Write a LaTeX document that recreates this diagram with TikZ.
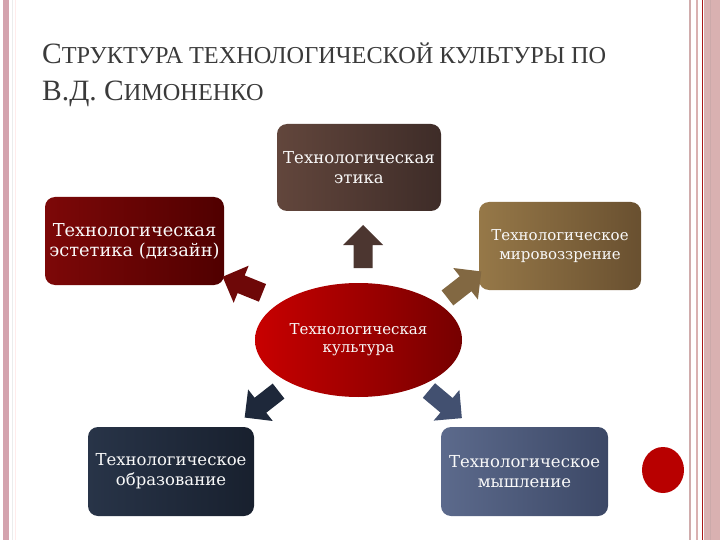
\documentclass[tikz,border=0pt]{standalone}
\usepackage{fontspec}
\setmainfont{DejaVu Serif}
\newfontfamily\titlefont{Liberation Serif}
\usetikzlibrary{shapes.geometric}
\definecolor{titlegray}{HTML}{3A3A3A}
\definecolor{pinkA}{HTML}{D4A3AE}
\definecolor{pinkB}{HTML}{D9B1B1}
\definecolor{redline}{HTML}{A81818}
\definecolor{etL}{RGB}{98,70,60}
\definecolor{etR}{RGB}{62,44,40}
\definecolor{esL}{RGB}{125,8,8}
\definecolor{esR}{RGB}{80,0,0}
\definecolor{miL}{RGB}{150,120,72}
\definecolor{miR}{RGB}{105,80,48}
\definecolor{kuL}{RGB}{200,0,0}
\definecolor{kuR}{RGB}{118,0,0}
\definecolor{obL}{RGB}{40,52,72}
\definecolor{obR}{RGB}{24,32,46}
\definecolor{myL}{RGB}{92,106,140}
\definecolor{myR}{RGB}{60,72,102}
\definecolor{arA}{RGB}{76,54,48}
\definecolor{arB}{RGB}{110,8,8}
\definecolor{arC}{RGB}{130,104,66}
\definecolor{arD}{RGB}{30,40,58}
\definecolor{arE}{RGB}{66,80,112}
\definecolor{dotred}{RGB}{184,0,0}
\newcommand\bigC[1]{{\fontsize{29.5}{34}\selectfont #1}}
\newcommand\smC[1]{{\fontsize{24.3}{28}\selectfont #1}}
\newcommand\blockarrow[5]{%
  \begin{scope}[shift={(#2,#3)},rotate=#4]
    \fill[#5] (-21,-9.5) -- (2,-9.5) -- (2,-20) -- (22,0) -- (2,20) -- (2,9.5) -- (-21,9.5) -- cycle;
    \coordinate (#1) at (0,0);
  \end{scope}}
\tikzset{
  box/.style={rounded corners=10pt, text=white!95!gray, align=center, inner sep=2pt},
}
\begin{document}
\begin{tikzpicture}[x=1pt,y=-1pt]
\useasboundingbox (0,0) rectangle (720,540);
\fill[white] (0,0) rectangle (720,540);
% borders
\fill[pinkA] (3,0) rectangle (9,540);
\draw[gray!15, line width=0.8pt] (12,0) -- (12,540);
\draw[pink!30, line width=0.8pt] (15,0) -- (15,540);
\fill[pinkB] (704,0) rectangle (720,540);
\draw[redline, line width=1.2pt] (702.5,0) -- (702.5,540);
\draw[pinkB!90!gray, line width=2pt] (690,0) -- (690,540);
\draw[pinkB, line width=2pt] (696.5,0) -- (696.5,540);
\draw[pinkB!85!gray, line width=1pt] (710,0) -- (710,540);
% title
\node[anchor=base west, inner sep=0, text=titlegray, font=\titlefont] (t1) at (42,64)
  {\bigC{С}\smC{ТРУКТУРА ТЕХНОЛОГИЧЕСКОЙ КУЛЬТУРЫ ПО}};
\node[anchor=base west, inner sep=0, text=titlegray, font=\titlefont] (t2) at (42,101)
  {\bigC{В.Д. С}\smC{ИМОНЕНКО}};
% boxes
\node[box, minimum width=164pt, minimum height=87pt, left color=etL, right color=etR,
      font=\fontsize{16.5}{19.5}\selectfont] (etika) at (359,167.5) {Технологическая\\этика};
\node[box, minimum width=179pt, minimum height=88pt, left color=esL, right color=esR,
      font=\fontsize{17.8}{20}\selectfont] (estetika) at (134.5,241) {Технологическая\\эстетика (дизайн)};
\node[box, minimum width=162pt, minimum height=88pt, left color=miL, right color=miR,
      font=\fontsize{15}{19}\selectfont] (mir) at (560,246) {Технологическое\\мировоззрение};
\node[ellipse, text=white!95!gray, align=center, minimum width=207pt, minimum height=114pt, inner sep=0,
      left color=kuL, right color=kuR,
      font=\fontsize{15}{18}\selectfont] (kult) at (358.5,340) {Технологическая\\культура};
\node[box, minimum width=166pt, minimum height=89pt, left color=obL, right color=obR,
      font=\fontsize{16.5}{20}\selectfont] (obr) at (171,471.5) {Технологическое\\образование};
\node[box, minimum width=167pt, minimum height=89pt, left color=myL, right color=myR,
      font=\fontsize{16.5}{20}\selectfont] (mysh) at (524.5,471.5) {Технологическое\\мышление};
% block arrows
\blockarrow{a1}{363}{247}{90}{arA}
\blockarrow{a2}{243}{285}{158}{arB}
\blockarrow{a3}{464}{285}{38}{arC}
\blockarrow{a4}{262}{404}{-142}{arD}
\blockarrow{a5}{445}{404}{-40}{arE}
% red dot
\fill[dotred] (663,470) ellipse (21pt and 23pt);
\end{tikzpicture}
\end{document}
